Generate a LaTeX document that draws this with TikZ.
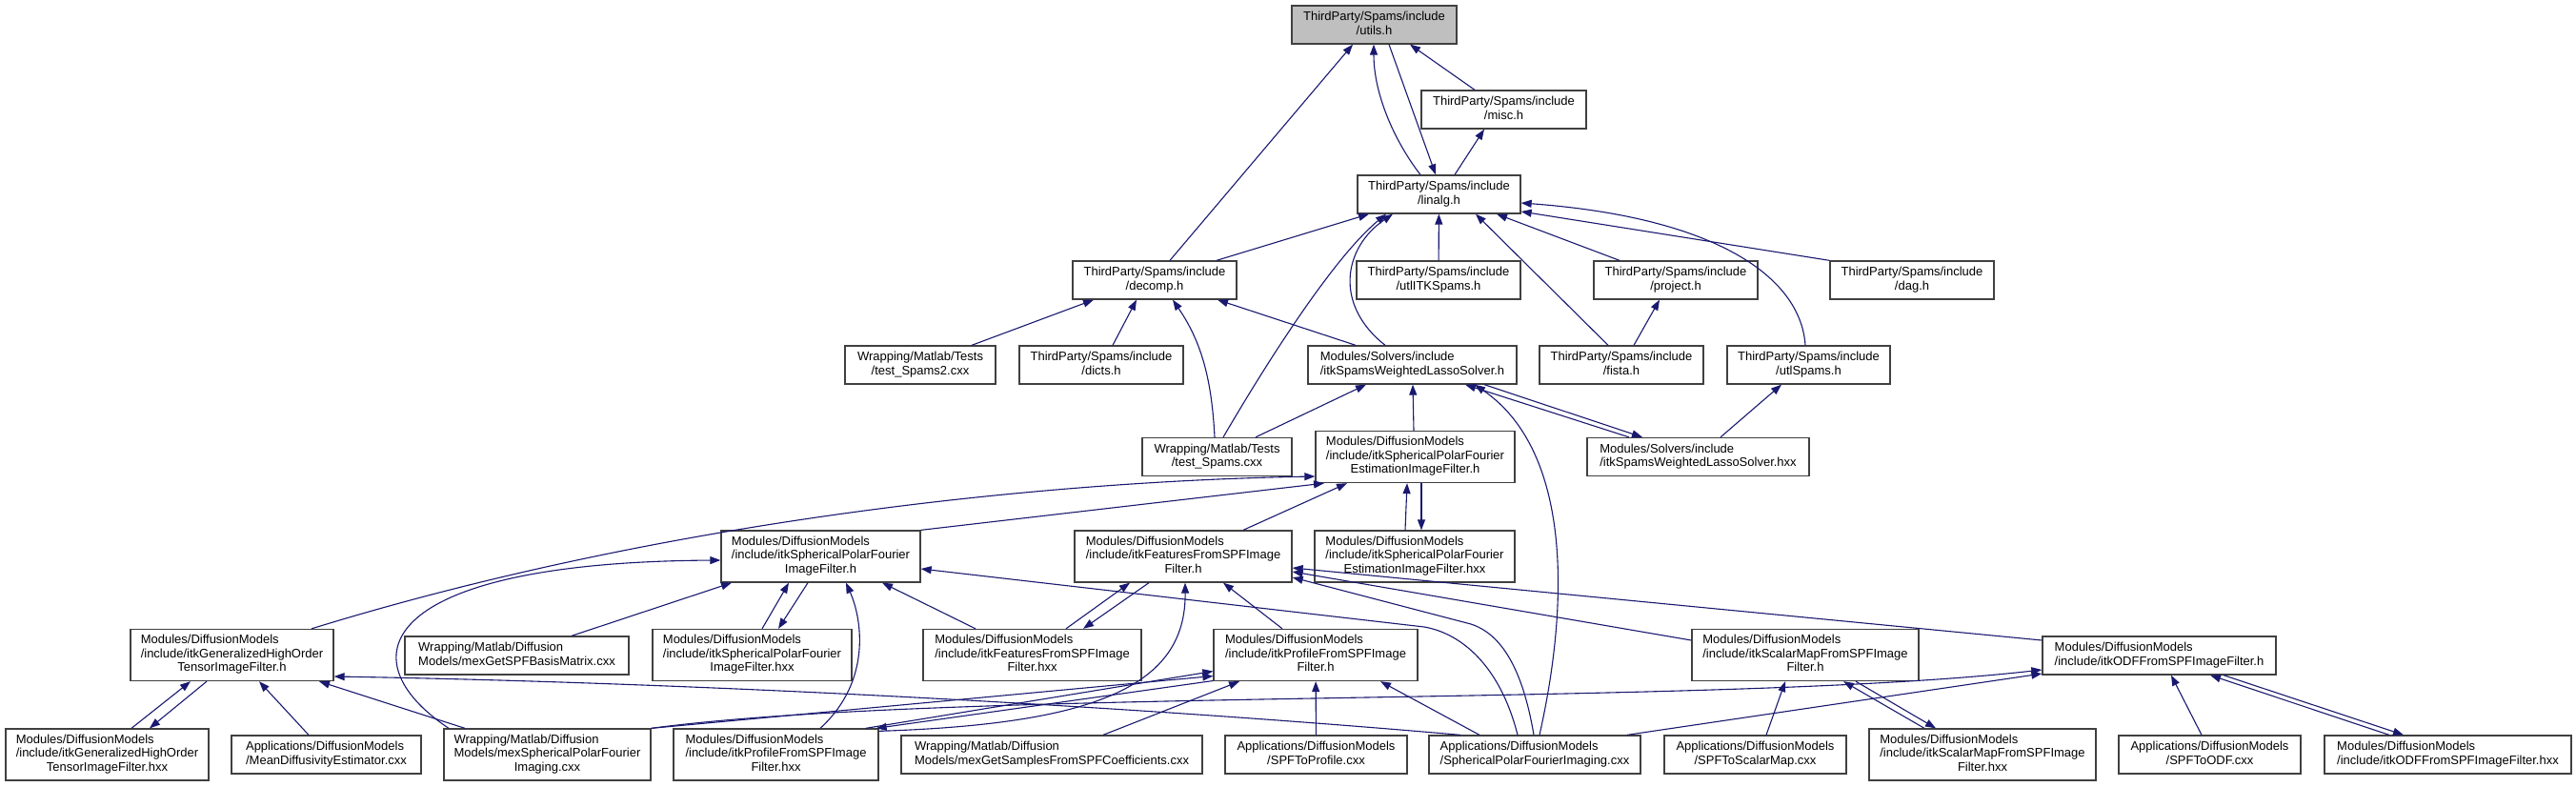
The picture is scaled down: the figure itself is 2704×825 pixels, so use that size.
\documentclass[tikz,border=0pt]{standalone}
\usepackage{fontspec}
\setmainfont{Liberation Sans}
\usetikzlibrary{arrows.meta}
\definecolor{edgeblue}{RGB}{25,25,112}
\definecolor{boxline}{RGB}{64,64,64}
\definecolor{curfile}{RGB}{191,191,191}
\tikzset{inc/.style={draw=edgeblue, line width=1.1pt, -{Triangle[length=11pt,width=8pt]}},
  blk/.style={draw=boxline, line width=1.3pt, fill=white, inner sep=0pt, minimum height=40pt}}
% label: all lines but the last flush left, last line centred
\newcommand{\flab}[2]{\begin{tabular}{@{}l@{}}#1\\\multicolumn{1}{@{}c@{}}{#2}\end{tabular}}
\newcommand{\flabb}[3]{\begin{tabular}{@{}l@{}}#1\\#2\\\multicolumn{1}{@{}c@{}}{#3}\end{tabular}}

\begin{document}
\begin{tikzpicture}[x=1pt, y=-1pt, font=\fontsize{13pt}{14.5pt}\selectfont]
  \fill[white] (0,0) rectangle (2704,825);
  \useasboundingbox (0,0) rectangle (2704,825);
  % spams headers
  \node[blk, fill=curfile, minimum width=173pt] (utils) at (1442.5,26) {\flab{ThirdParty/Spams/include}{/utils.h}};
  \node[blk, minimum width=173pt] (misc) at (1578.5,115) {\flab{ThirdParty/Spams/include}{/misc.h}};
  \node[blk, minimum width=171pt] (linalg) at (1510.5,204) {\flab{ThirdParty/Spams/include}{/linalg.h}};
  \node[blk, minimum width=172pt] (decomp) at (1212,294) {\flab{ThirdParty/Spams/include}{/decomp.h}};
  \node[blk, minimum width=172pt] (utlitk) at (1510,294) {\flab{ThirdParty/Spams/include}{/utlITKSpams.h}};
  \node[blk, minimum width=172pt] (project) at (1759,294) {\flab{ThirdParty/Spams/include}{/project.h}};
  \node[blk, minimum width=172pt] (dag) at (2007,294) {\flab{ThirdParty/Spams/include}{/dag.h}};
  \node[blk, minimum width=158pt] (tsttwo) at (966,383) {\flab{Wrapping/Matlab/Tests}{/test\_Spams2.cxx}};
  \node[blk, minimum width=172pt] (dicts) at (1156,383) {\flab{ThirdParty/Spams/include}{/dicts.h}};
  \node[blk, minimum width=219pt] (swls) at (1482.5,383) {\flab{Modules/Solvers/include}{/itkSpamsWeightedLassoSolver.h}};
  \node[blk, minimum width=172pt] (fista) at (1702,383) {\flab{ThirdParty/Spams/include}{/fista.h}};
  \node[blk, minimum width=171pt] (utlspams) at (1898.5,383) {\flab{ThirdParty/Spams/include}{/utlSpams.h}};
  % solver and estimation filter
  \node[blk, minimum width=157pt] (tst) at (1277.5,479.5) {\flab{Wrapping/Matlab/Tests}{/test\_Spams.cxx}};
  \node[blk, minimum width=209pt, minimum height=54pt] (spfest) at (1485.5,479.5) {\flabb{Modules/DiffusionModels}{/include/itkSphericalPolarFourier}{EstimationImageFilter.h}};
  \node[blk, minimum width=233pt] (swlshxx) at (1782.5,479.5) {\flab{Modules/Solvers/include}{/itkSpamsWeightedLassoSolver.hxx}};
  \node[blk, minimum width=210pt, minimum height=54pt] (spfesthxx) at (1485,584) {\flabb{Modules/DiffusionModels}{/include/itkSphericalPolarFourier}{EstimationImageFilter.hxx}};
  \node[blk, minimum width=209pt, minimum height=54pt] (spfimg) at (861.5,584) {\flabb{Modules/DiffusionModels}{/include/itkSphericalPolarFourier}{ImageFilter.h}};
  \node[blk, minimum width=228pt, minimum height=54pt] (feat) at (1242,584) {\flabb{Modules/DiffusionModels}{/include/itkFeaturesFromSPFImage}{Filter.h}};
  % filters
  \node[blk, minimum width=213pt, minimum height=54pt] (ghot) at (243.5,687.5) {\flabb{Modules/DiffusionModels}{/include/itkGeneralizedHighOrder}{TensorImageFilter.h}};
  \node[blk, minimum width=235pt] (basis) at (542.5,688) {\flab{Wrapping/Matlab/Diffusion}{Models/mexGetSPFBasisMatrix.cxx}};
  \node[blk, minimum width=209pt, minimum height=54pt] (spfimghxx) at (789.5,687.5) {\flabb{Modules/DiffusionModels}{/include/itkSphericalPolarFourier}{ImageFilter.hxx}};
  \node[blk, minimum width=229pt, minimum height=54pt] (feathxx) at (1083.5,687.5) {\flabb{Modules/DiffusionModels}{/include/itkFeaturesFromSPFImage}{Filter.hxx}};
  \node[blk, minimum width=214pt, minimum height=54pt] (prof) at (1381,687.5) {\flabb{Modules/DiffusionModels}{/include/itkProfileFromSPFImage}{Filter.h}};
  \node[blk, minimum width=238pt, minimum height=54pt] (smap) at (1895,687.5) {\flabb{Modules/DiffusionModels}{/include/itkScalarMapFromSPFImage}{Filter.h}};
  \node[blk, minimum width=245pt] (odf) at (2266.5,688) {\flab{Modules/DiffusionModels}{/include/itkODFFromSPFImageFilter.h}};
  % bottom row
  \node[blk, minimum width=213pt, minimum height=54pt] (ghothxx) at (112.5,792) {\flabb{Modules/DiffusionModels}{/include/itkGeneralizedHighOrder}{TensorImageFilter.hxx}};
  \node[blk, minimum width=199pt] (mdiff) at (342.5,792) {\flab{Applications/DiffusionModels}{/MeanDiffusivityEstimator.cxx}};
  \node[blk, minimum width=217pt, minimum height=54pt] (meximg) at (574.5,792) {\flabb{Wrapping/Matlab/Diffusion}{Models/mexSphericalPolarFourier}{Imaging.cxx}};
  \node[blk, minimum width=215pt, minimum height=54pt] (profhxx) at (814.5,792) {\flabb{Modules/DiffusionModels}{/include/itkProfileFromSPFImage}{Filter.hxx}};
  \node[blk, minimum width=316pt] (samples) at (1104,792) {\flab{Wrapping/Matlab/Diffusion}{Models/mexGetSamplesFromSPFCoefficients.cxx}};
  \node[blk, minimum width=191pt] (toprof) at (1381.5,792) {\flab{Applications/DiffusionModels}{/SPFToProfile.cxx}};
  \node[blk, minimum width=222pt] (spfimaging) at (1611,792) {\flab{Applications/DiffusionModels}{/SphericalPolarFourierImaging.cxx}};
  \node[blk, minimum width=191pt] (tosmap) at (1842.5,792) {\flab{Applications/DiffusionModels}{/SPFToScalarMap.cxx}};
  \node[blk, minimum width=238pt, minimum height=54pt] (smaphxx) at (2081,792) {\flabb{Modules/DiffusionModels}{/include/itkScalarMapFromSPFImage}{Filter.hxx}};
  \node[blk, minimum width=191pt] (toodf) at (2319.5,792) {\flab{Applications/DiffusionModels}{/SPFToODF.cxx}};
  \node[blk, minimum width=259pt] (odfhxx) at (2569.5,792) {\flab{Modules/DiffusionModels}{/include/itkODFFromSPFImageFilter.hxx}};
  % includes of utils.h, misc.h
  \draw[inc] ([xshift=16pt]decomp.north) -- ([xshift=-22.5pt]utils.south);
  \draw[inc] ([xshift=-19.5pt]linalg.north) .. controls (1465,150) and (1442,100) .. ([xshift=-0.5pt]utils.south);
  \draw[inc] ([xshift=15.5pt]utils.south) -- ([xshift=-3.5pt]linalg.north);
  \draw[inc] ([xshift=-30.5pt]misc.north) -- ([xshift=37.5pt]utils.south);
  \draw[inc] ([xshift=16.5pt]linalg.north) -- ([xshift=-20.5pt]misc.south);
  % includes of linalg.h
  \draw[inc] ([xshift=65pt]decomp.north) -- ([xshift=-73.5pt]linalg.south);
  \draw[inc] ([xshift=6.5pt]tst.north) .. controls (1330,380) and (1400,270) .. ([xshift=-55.5pt]linalg.south);
  \draw[inc] ([xshift=-28.5pt]swls.north) .. controls (1400,320) and (1410,260) .. ([xshift=-48.5pt]linalg.south);
  \draw[inc] (utlitk) -- (linalg);
  \draw[inc] ([xshift=-14pt]fista.north) -- ([xshift=38.5pt]linalg.south);
  \draw[inc] ([xshift=-59pt]project.north) -- ([xshift=60.5pt]linalg.south);
  \draw[inc] (dag.north west) -- ([yshift=-18pt]linalg.east);
  \draw[inc] ([xshift=-3.5pt]utlspams.north) .. controls (1890,290) and (1800,228) .. ([yshift=-9pt]linalg.east);
  % decomp.h, project.h, utlSpams.h
  \draw[inc] ([xshift=54pt]tsttwo.north) -- ([xshift=-64pt]decomp.south);
  \draw[inc] ([xshift=12pt]dicts.north) -- ([xshift=-19pt]decomp.south);
  \draw[inc] ([xshift=-2.5pt]tst.north) .. controls (1272,400) and (1262,360) .. ([xshift=19pt]decomp.south);
  \draw[inc] ([xshift=-59.5pt]swls.north) -- ([xshift=66pt]decomp.south);
  \draw[inc] ([xshift=13pt]fista.north) -- ([xshift=-17pt]project.south);
  \draw[inc] ([xshift=23.5pt]swlshxx.north) -- ([xshift=-28.5pt]utlspams.south);
  % solver
  \draw[inc] ([xshift=40.5pt]tst.north) -- ([xshift=-48.5pt]swls.south);
  \draw[inc] ([xshift=-1.5pt]spfest.north) -- ([xshift=0.5pt]swls.south);
  \draw[inc] ([xshift=-72.5pt]swlshxx.north) -- ([xshift=55.5pt]swls.south);
  \draw[inc] ([xshift=75.5pt]swls.south) -- ([xshift=-58.5pt]swlshxx.north);
  \draw[inc] ([xshift=5pt]spfimaging.north) .. controls (1650,620) and (1645,470) .. ([xshift=65.5pt]swls.south);
  % estimation filter
  \draw[inc] ([xshift=83.5pt]ghot.north) .. controls (700,545) and (1100,505) .. ([yshift=-20.5pt]spfest.west);
  \draw[inc] (spfimg.north east) -- ([xshift=-95.5pt]spfest.south);
  \draw[inc] ([xshift=63pt]feat.north) -- ([xshift=-71.5pt]spfest.south);
  \draw[inc] ([xshift=-10pt]spfesthxx.north) -- ([xshift=-8.5pt]spfest.south);
  \draw[inc] ([xshift=6.5pt]spfest.south) -- ([xshift=7pt]spfesthxx.north);
  % spherical polar fourier filter
  \draw[inc] ([xshift=-103.5pt]meximg.north) .. controls (360,690) and (400,590) .. ([yshift=-4pt]spfimg.west);
  \draw[inc] ([xshift=57.5pt]basis.north) -- ([xshift=-93.5pt]spfimg.south);
  \draw[inc] ([xshift=10.5pt]spfimghxx.north) -- ([xshift=-33.5pt]spfimg.south);
  \draw[inc] ([xshift=-13.5pt]spfimg.south) -- ([xshift=27.5pt]spfimghxx.north);
  \draw[inc] ([xshift=-59.5pt]feathxx.north) -- ([xshift=64.5pt]spfimg.south);
  \draw[inc] ([xshift=46.5pt]profhxx.north) .. controls (915,715) and (905,650) .. ([xshift=26.5pt]spfimg.south);
  \draw[inc] ([xshift=-18pt]spfimaging.north) .. controls (1575,700) and (1535,665) .. (1495,658) -- ([yshift=-13pt]spfimg.east);
  % features filter
  \draw[inc] ([xshift=35.5pt]feathxx.north) -- ([xshift=-56pt]feat.south);
  \draw[inc] ([xshift=-36pt]feat.south) -- ([xshift=53.5pt]feathxx.north);
  \draw[inc] ([yshift=-3pt]profhxx.north east) .. controls (1150,760) and (1245,720) .. ([xshift=2pt]feat.south);
  \draw[inc] ([xshift=-35pt]prof.north) -- ([xshift=42pt]feat.south);
  \draw[inc] ([yshift=15.5pt]smap.west) -- ([yshift=-16pt]feat.east);
  \draw[inc] ([yshift=16pt]odf.west) -- ([yshift=-12pt]feat.east);
  \draw[inc] ([xshift=-1pt]spfimaging.north) .. controls (1598,700) and (1575,665) .. (1544,655) -- ([yshift=-22pt]feat.east);
  % high order tensor filter
  \draw[inc] ([xshift=25.5pt]ghothxx.north) -- ([xshift=-43.5pt]ghot.south);
  \draw[inc] ([xshift=-26.5pt]ghot.south) -- ([xshift=44.5pt]ghothxx.north);
  \draw[inc] ([xshift=-18.5pt]mdiff.north) -- ([xshift=28.5pt]ghot.south);
  \draw[inc] ([xshift=-86.5pt]meximg.north) -- ([xshift=91.5pt]ghot.south);
  \draw[inc] ([xshift=-78pt]spfimaging.north) .. controls (1150,738) and (700,716) .. ([yshift=-22.5pt]ghot.east);
  % profile filter
  \draw[inc] (meximg.north east) -- ([yshift=-22pt]prof.west);
  \draw[inc] ([xshift=-14pt]profhxx.north east) -- ([yshift=-17pt]prof.west);
  \draw[inc] ([yshift=-27pt]prof.west) -- ([xshift=-3pt]profhxx.north east);
  \draw[inc] ([xshift=54pt]samples.north) -- ([xshift=-80pt]prof.south);
  \draw[inc] (toprof) -- (prof);
  \draw[inc] ([xshift=-58pt]spfimaging.north) -- ([xshift=68pt]prof.south);
  % scalar map filter
  \draw[inc] ([xshift=11.5pt]tosmap.north) -- ([xshift=-21pt]smap.south);
  \draw[inc] ([xshift=-61pt]smaphxx.north) -- ([xshift=40pt]smap.south);
  \draw[inc] ([xshift=53pt]smap.south) -- ([xshift=-49pt]smaphxx.north);
  % odf filter
  \draw[inc] (meximg.north east) .. controls (1000,722) and (1800,742) .. ([yshift=-15pt]odf.west);
  \draw[inc] ([xshift=97pt]spfimaging.north) -- ([yshift=-19pt]odf.west);
  \draw[inc] ([xshift=-8.5pt]toodf.north) -- ([xshift=12.5pt]odf.south);
  \draw[inc] ([xshift=-61.5pt]odfhxx.north) -- ([xshift=53.5pt]odf.south);
  \draw[inc] ([xshift=67.5pt]odf.south) -- ([xshift=-46.5pt]odfhxx.north);
\end{tikzpicture}
\end{document}
